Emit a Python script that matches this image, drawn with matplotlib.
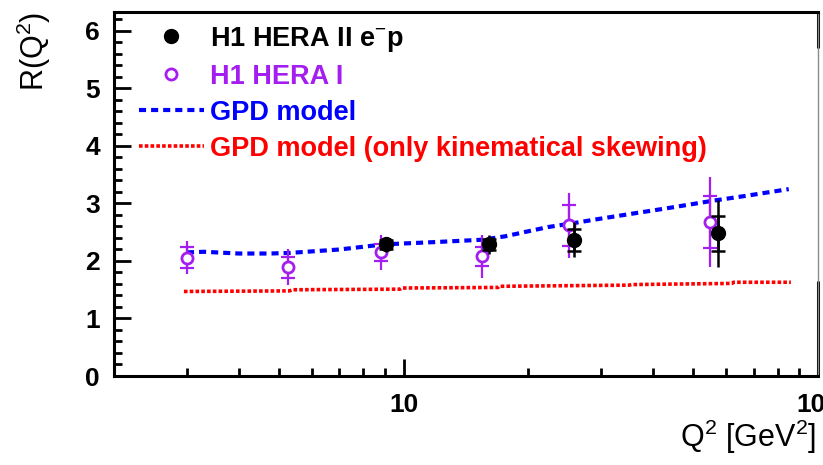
import numpy as np
import matplotlib
matplotlib.use('Agg')
import matplotlib.pyplot as plt
from matplotlib.ticker import FixedLocator, NullFormatter, MultipleLocator

plt.rcParams['font.family'] = ['Liberation Sans', 'DejaVu Sans']
plt.rcParams['mathtext.fontset'] = 'custom'
plt.rcParams['mathtext.rm'] = 'Liberation Sans'
plt.rcParams['mathtext.it'] = 'Liberation Sans:italic'
plt.rcParams['mathtext.bf'] = 'Liberation Sans:bold'

# H1 HERA I (open purple circles)
q2_hera1 = [3.0, 5.25, 8.8, 15.5, 25.1, 55.0]
r_hera1 = [2.06, 1.89, 2.15, 2.08, 2.62, 2.68]
stat_hera1 = [0.18, 0.18, 0.145, 0.16, 0.36, 0.45]
tot_hera1 = [0.28, 0.31, 0.30, 0.38, 0.57, 0.78]

# H1 HERA II e-p (full black circles)
q2_hera2 = [9.05, 16.1, 25.8, 57.5]
r_hera2 = [2.29, 2.29, 2.37, 2.48]
stat_hera2 = [0.08, 0.10, 0.19, 0.30]
tot_hera2 = [0.13, 0.17, 0.30, 0.58]

# GPD model
gpd_q2 = [3.0, 3.3, 4.0, 4.75, 5.3, 7.0, 9.0, 12.0, 15.5, 17.6, 19.5, 22.3,
          25.3, 29.5, 35.4, 42.6, 56.0, 68.0, 85.0]
gpd_r = [2.15, 2.16, 2.13, 2.13, 2.14, 2.20, 2.29, 2.33, 2.37, 2.43, 2.50, 2.59,
         2.65, 2.73, 2.82, 2.91, 3.05, 3.14, 3.25]

# GPD model (only kinematical skewing)
skew_q2 = [2.95, 5.3, 5.4, 9.8, 9.9, 16.9, 17.0, 35.0, 35.5, 62.0, 62.5, 86.0]
skew_r = [1.47, 1.48, 1.50, 1.51, 1.53, 1.54, 1.56, 1.58, 1.59, 1.61, 1.63, 1.63]

purple = '#a51ef0'

fig = plt.figure(figsize=(8.23, 4.65), dpi=100)
ax = fig.add_axes([114 / 823, 89 / 465, 704 / 823, 364 / 465])

gpd_line, = ax.plot(gpd_q2, gpd_r, color='#0000ff', lw=3.0, dashes=(1.7, 1.2),
                    label='GPD model')
skew_line, = ax.plot(skew_q2, skew_r, color='#ff0000', lw=2.6, dashes=(1.0, 0.6),
                     label='GPD model (only kinematical skewing)')

# total errors, then stat errors with crossbars
ax.errorbar(q2_hera1, r_hera1, yerr=tot_hera1, fmt='none', ecolor=purple,
            elinewidth=1.6, capsize=0)
ax.errorbar(q2_hera1, r_hera1, yerr=stat_hera1, fmt='none', ecolor=purple,
            elinewidth=1.6, capsize=4.8, capthick=1.6)
h1, = ax.plot(q2_hera1, r_hera1, 'o', ls='none', mfc='white', mec=purple,
              mew=2.0, ms=8, label='H1 HERA I')

ax.errorbar(q2_hera2, r_hera2, yerr=tot_hera2, fmt='none', ecolor='black',
            elinewidth=1.8, capsize=0)
ax.errorbar(q2_hera2, r_hera2, yerr=stat_hera2, fmt='none', ecolor='black',
            elinewidth=1.8, capsize=4.8, capthick=1.8)
h2, = ax.plot(q2_hera2, r_hera2, 'o', ls='none', color='black', ms=10,
              label='H1 HERA II e$^{-}$p')

ax.set_xscale('log')
ax.set_xlim(2, 100)
ax.set_ylim(0, 6.33)

ax.xaxis.set_major_locator(FixedLocator([10, 100]))
ax.xaxis.set_minor_locator(FixedLocator([3, 4, 5, 6, 7, 8, 9, 20, 30, 40, 50, 60, 70, 80, 90]))
ax.xaxis.set_minor_formatter(NullFormatter())
ax.set_xticklabels(['10', '100'])
ax.yaxis.set_major_locator(MultipleLocator(1))
ax.yaxis.set_minor_locator(MultipleLocator(0.2))

ax.tick_params(which='both', direction='in', top=False, right=False,
               width=2.0, labelsize=19)
ax.tick_params(which='major', length=12)
ax.tick_params(which='minor', length=6)
ax.tick_params(axis='y', pad=10)
ax.tick_params(axis='x', pad=12)
for lab in ax.get_xticklabels() + ax.get_yticklabels():
    lab.set_fontweight('bold')

for side in ['left', 'bottom', 'top']:
    ax.spines[side].set_linewidth(2.2)
ax.spines['right'].set_linewidth(1.0)
ax.spines['right'].set_color('#8a8a8a')
ax.plot([1, 1], [0.0, 0.26], transform=ax.transAxes, color='black', lw=2.2,
        clip_on=False, solid_capstyle='butt')
ax.plot([1, 1], [0.90, 1.0], transform=ax.transAxes, color='black', lw=2.2,
        clip_on=False, solid_capstyle='butt')

ax.set_ylabel('R(Q$^2$)', fontsize=22, loc='top')
ax.yaxis.set_label_coords(-0.086, 1.0)
ax.set_xlabel('Q$^2$ [GeV$^2$]', fontsize=22, loc='right')
ax.xaxis.set_label_coords(0.997, -0.115)

leg = ax.legend(handles=[h2, h1, gpd_line, skew_line], loc='upper left',
                bbox_to_anchor=(0.035, 0.965), frameon=False,
                handlelength=2.4, handletextpad=0.25, labelspacing=0.37,
                borderpad=0, borderaxespad=0,
                prop={'weight': 'bold', 'size': 19.5})
for txt, col in zip(leg.get_texts(), ['black', purple, '#0000ff', '#ff0000']):
    txt.set_color(col)

fig.savefig('out.png', dpi=100)
